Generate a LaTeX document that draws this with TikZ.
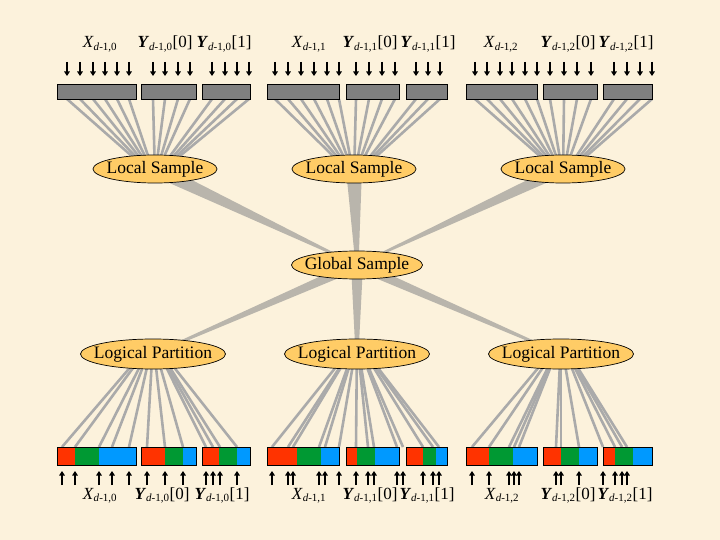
\documentclass[tikz,border=0pt]{standalone}
\usepackage{fontspec}
\setmainfont{Liberation Serif}
\usetikzlibrary{arrows.meta,calc,shapes.geometric,backgrounds}

\definecolor{paper}{HTML}{FCF2DC}
\definecolor{ovalfill}{HTML}{FFCC66}
\definecolor{bargray}{HTML}{808080}
\definecolor{fangray}{HTML}{AAAAAA}
\definecolor{wedgegray}{HTML}{B9B5AC}
\definecolor{segred}{HTML}{FF3300}
\definecolor{seggreen}{HTML}{009933}
\definecolor{segblue}{HTML}{0099FF}

\tikzset{
  oval/.style={ellipse, draw, fill=ovalfill, line width=0.7pt, inner ysep=0pt,
    inner xsep=-9pt, minimum height=28pt, font=\fontsize{17.5}{20}\selectfont},
  lbl/.style={anchor=base, inner sep=0pt, font=\fontsize{17}{20}\selectfont},
  fan/.style={fangray, line width=2.6pt},
  arr/.style={line width=1.5pt, -{Triangle[length=4.5pt,width=5.5pt]}},
  topbar/.style={draw, fill=bargray, line width=0.7pt},
}

% subscript d-1,i of the labels
\newcommand{\subidx}[1]{\textsubscript{\fontsize{11}{12}\selectfont\textit{d}-1,#1}}
% fan of lines from the top bars into a sample oval
\newcommand{\fanup}[3]{\foreach \x in {#3} \draw[fan] (\x,99) -- ($(#1)+({0.2*(\x-#2)},-8)$);}
% fan of lines from a partition oval down to the coloured bars
\newcommand{\fandown}[3]{\foreach \x in {#3} \draw[fan] ($(#1)+({0.2*(\x-#2)},8)$) -- (\x,447);}
% tapered connector between two ovals
\newcommand{\taper}[4]{\fill[wedgegray] ($(#1)!#3!90:(#2)$) -- ($(#1)!#3!-90:(#2)$)
  -- ($(#2)!#4!90:(#1)$) -- ($(#2)!#4!-90:(#1)$) -- cycle;}
% coloured bar: left, end of red, end of green, right
\newcommand{\colbar}[4]{%
  \fill[segred] (#1,447) rectangle (#2,465);
  \fill[seggreen] (#2,447) rectangle (#3,465);
  \fill[segblue] (#3,447) rectangle (#4,465);
  \draw[line width=0.7pt] (#1,447) rectangle (#4,465);}

\begin{document}
\begin{tikzpicture}[x=1pt, y=-1pt]
    \useasboundingbox (0,0) rectangle (720,540);

    % ovals
    \node[oval, minimum width=124pt] (ls0) at (155,169) {Local Sample};
    \node[oval, minimum width=124pt] (ls1) at (354,169) {Local Sample};
    \node[oval, minimum width=124pt] (ls2) at (563,169) {Local Sample};
    \node[oval, minimum width=131pt] (gs) at (357,265) {Global Sample};
    \node[oval, minimum width=145pt, minimum height=30pt] (lp0) at (153,354) {Logical Partition};
    \node[oval, minimum width=145pt, minimum height=30pt] (lp1) at (357,354) {Logical Partition};
    \node[oval, minimum width=145pt, minimum height=30pt] (lp2) at (561,354) {Logical Partition};

    \begin{scope}[on background layer]
        \fill[paper] (0,0) rectangle (720,540);

        \taper{ls0}{gs}{7pt}{0.5pt}
        \taper{ls1}{gs}{8pt}{1.5pt}
        \taper{ls2}{gs}{6pt}{0.5pt}
        \taper{gs}{lp0}{5pt}{0.8pt}
        \taper{gs}{lp1}{6pt}{1.5pt}
        \taper{gs}{lp2}{5pt}{0.8pt}

        \fanup{ls0}{155}{67,80,93,105,117,129,153,165,178,190,212,225,237,249}
        \fanup{ls1}{354}{275,288,301,314,327,339,356,369,382,395,416,428,440}
        \fanup{ls2}{563}{475,487,500,512,525,537,550,564,577,591,614,627,640,652}

        \fandown{lp0}{153}{62,75,99,112,129,147,165,183,206,213,220,237}
        \fandown{lp1}{357}{272,288,293,319,325,339,356,368,374,397,403,423,433,439}
        \fandown{lp2}{561}{472,489,509,514,519,556,561,579,603,615,622,627}
    \end{scope}

    % top bars
    \draw[topbar] (57,84) rectangle (136,99);
    \draw[topbar] (141,84) rectangle (196,99);
    \draw[topbar] (202,84) rectangle (250,99);
    \draw[topbar] (267,84) rectangle (339,99);
    \draw[topbar] (346,84) rectangle (399,99);
    \draw[topbar] (406,84) rectangle (447,99);
    \draw[topbar] (466,84) rectangle (537,99);
    \draw[topbar] (543,84) rectangle (597,99);
    \draw[topbar] (603,84) rectangle (652,99);

    \foreach \x in {67,80,93,105,117,129,153,165,178,190,212,225,237,249,
                    275,288,301,314,327,339,356,369,382,395,416,428,440,
                    475,487,500,512,525,537,550,564,577,591,614,627,640,652}
        \draw[arr] (\x,62) -- (\x,76);

    % bottom bars
    \colbar{57}{75}{99}{136}
    \colbar{141}{165}{183}{196}
    \colbar{202}{219}{237}{250}
    \colbar{267}{297}{321}{339}
    \colbar{346}{357}{375}{399}
    \colbar{406}{423}{436}{447}
    \colbar{466}{489}{513}{537}
    \colbar{543}{561}{579}{597}
    \colbar{603}{615}{633}{652}

    \foreach \x in {62,75,99,112,129,147,165,183,206,213,220,237,
                    272,288,293,319,325,339,356,368,374,397,403,423,433,439,
                    472,489,509,514,519,556,561,579,603,615,622,627}
        \draw[arr] (\x,485) -- (\x,471);

    % labels
    \node[lbl] (tx0) at (100,48) {\textit{X}\subidx{0}};
    \node[lbl] (ta0) at (165,48) {\textbf{\textit{Y}}\subidx{0}[0]};
    \node[lbl] (tb0) at (224,48) {\textbf{\textit{Y}}\subidx{0}[1]};
    \node[lbl] (tx1) at (309,48) {\textit{X}\subidx{1}};
    \node[lbl] (ta1) at (370,48) {\textbf{\textit{Y}}\subidx{1}[0]};
    \node[lbl] (tb1) at (428,48) {\textbf{\textit{Y}}\subidx{1}[1]};
    \node[lbl] (tx2) at (501,48) {\textit{X}\subidx{2}};
    \node[lbl] (ta2) at (568,48) {\textbf{\textit{Y}}\subidx{2}[0]};
    \node[lbl] (tb2) at (626,48) {\textbf{\textit{Y}}\subidx{2}[1]};

    \node[lbl] (bx0) at (100,499) {\textit{X}\subidx{0}};
    \node[lbl] (ba0) at (162,499) {\textbf{\textit{Y}}\subidx{0}[0]};
    \node[lbl] (bb0) at (222,499) {\textbf{\textit{Y}}\subidx{0}[1]};
    \node[lbl] (bx1) at (309,499) {\textit{X}\subidx{1}};
    \node[lbl] (ba1) at (370,499) {\textbf{\textit{Y}}\subidx{1}[0]};
    \node[lbl] (bb1) at (427,499) {\textbf{\textit{Y}}\subidx{1}[1]};
    \node[lbl] (bx2) at (502,499) {\textit{X}\subidx{2}};
    \node[lbl] (ba2) at (568,499) {\textbf{\textit{Y}}\subidx{2}[0]};
    \node[lbl] (bb2) at (625,499) {\textbf{\textit{Y}}\subidx{2}[1]};

\end{tikzpicture}
\end{document}
